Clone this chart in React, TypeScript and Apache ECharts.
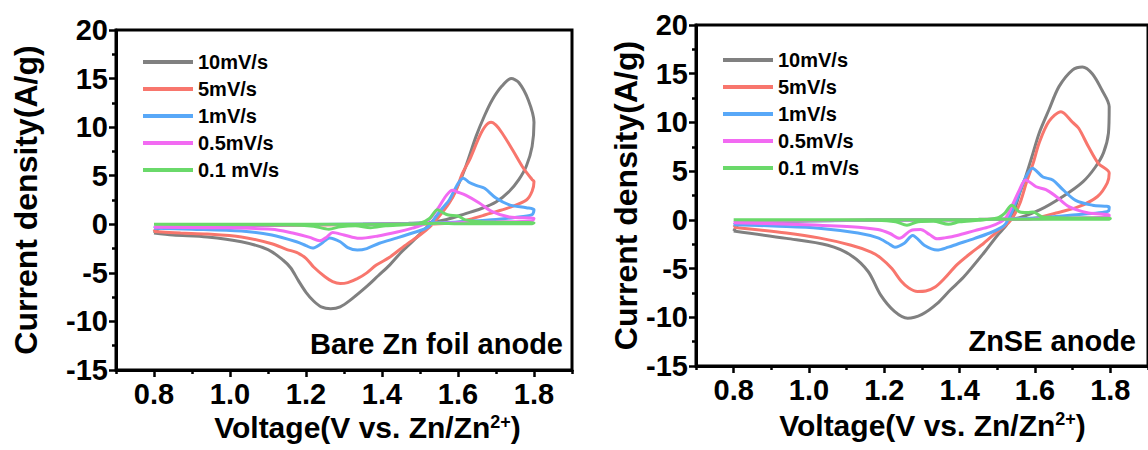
import React, { useEffect, useRef } from "react";
import * as echarts from "echarts";

const seriesNames = ["10mV/s", "5mV/s", "1mV/s", "0.5mV/s", "0.1 mV/s"];
const seriesColors = ["#808080", "#f8766d", "#58a8f8", "#f26af2", "#6ad96a"];
const xLabelValues = [0.8, 1.0, 1.2, 1.4, 1.6, 1.8];
const xMinorValues = [0.7, 0.9, 1.1, 1.3, 1.5, 1.7, 1.9];
const panelLabels = ["Bare Zn foil anode", "ZnSE anode"];
const yTitle = "Current density(A/g)";
const xTitle = "Voltage(V vs. Zn/Zn{sup|2+})";

// Bare Zn foil anode
const bare10 = [[0.80,-0.9],[0.85,-1.1],[0.94,-1.3],[1.03,-1.8],[1.10,-2.6],[1.14,-3.7],[1.16,-4.5],[1.18,-5.8],[1.20,-7.0],[1.22,-7.9],[1.24,-8.5],[1.265,-8.7],[1.29,-8.5],[1.32,-7.7],[1.36,-6.4],[1.39,-5.3],[1.42,-4.2],[1.45,-2.9],[1.49,-1.4],[1.52,-0.2],[1.55,1.0],[1.58,2.5],[1.60,4.0],[1.62,5.9],[1.648,9.1],[1.67,11.2],[1.69,12.8],[1.715,14.2],[1.74,15.0],[1.76,14.6],[1.785,12.8],[1.80,10.5],[1.795,8.0],[1.78,6.0],[1.76,4.6],[1.735,3.4],[1.70,2.3],[1.66,1.6],[1.62,1.1],[1.57,0.5],[1.53,0.2],[1.47,0.1],[1.35,0.0],[1.20,-0.05],[1.05,-0.1],[0.92,-0.2],[0.82,-0.3],[0.80,-0.9]];
const bare5 = [[0.80,-0.75],[0.87,-0.9],[0.94,-1.0],[1.03,-1.3],[1.11,-2.0],[1.15,-2.6],[1.175,-2.9],[1.20,-3.5],[1.22,-4.4],[1.25,-5.4],[1.27,-5.9],[1.29,-6.1],[1.31,-6.0],[1.335,-5.6],[1.36,-5.0],[1.385,-4.2],[1.42,-3.4],[1.46,-2.2],[1.50,-1.1],[1.525,-0.3],[1.55,0.8],[1.577,2.2],[1.595,3.5],[1.611,5.2],[1.63,6.6],[1.656,9.0],[1.672,10.1],[1.687,10.5],[1.70,10.2],[1.716,9.4],[1.743,7.7],[1.77,5.9],[1.795,4.6],[1.80,4.4],[1.795,3.4],[1.78,2.5],[1.74,1.8],[1.70,1.3],[1.67,0.95],[1.63,0.5],[1.60,0.2],[1.55,0.05],[1.45,0.0],[1.30,-0.05],[1.15,-0.1],[1.00,-0.15],[0.88,-0.2],[0.81,-0.3],[0.80,-0.75]];
const bare1 = [[0.80,-0.4],[0.90,-0.5],[1.03,-0.7],[1.11,-1.1],[1.175,-1.8],[1.20,-2.2],[1.217,-2.45],[1.24,-2.0],[1.262,-1.4],[1.29,-1.8],[1.31,-2.4],[1.335,-2.65],[1.36,-2.5],[1.393,-1.95],[1.44,-1.4],[1.48,-0.9],[1.52,-0.3],[1.542,0.8],[1.56,1.7],[1.577,2.5],[1.60,4.2],[1.614,4.75],[1.63,4.3],[1.648,4.0],[1.67,3.7],[1.70,2.7],[1.735,2.0],[1.78,1.7],[1.80,1.5],[1.795,1.0],[1.75,0.7],[1.70,0.5],[1.62,0.3],[1.55,0.15],[1.45,0.05],[1.30,0.0],[1.15,-0.05],[1.00,-0.1],[0.88,-0.15],[0.81,-0.2],[0.80,-0.4]];
const bare05 = [[0.80,-0.3],[0.95,-0.35],[1.11,-0.5],[1.165,-0.9],[1.21,-1.35],[1.236,-1.7],[1.255,-1.3],[1.27,-0.85],[1.30,-1.1],[1.34,-1.45],[1.39,-1.2],[1.44,-0.8],[1.48,-0.4],[1.51,0.0],[1.53,0.75],[1.55,1.8],[1.57,3.0],[1.585,3.5],[1.60,3.3],[1.62,3.0],[1.656,2.2],[1.69,1.3],[1.735,0.75],[1.80,0.6],[1.795,0.35],[1.70,0.25],[1.60,0.15],[1.50,0.05],[1.35,0.0],[1.15,-0.05],[0.95,-0.1],[0.82,-0.15],[0.80,-0.3]];
const bare01 = [[0.80,0.0],[1.00,-0.02],[1.15,-0.05],[1.22,-0.2],[1.26,-0.5],[1.29,-0.25],[1.33,-0.15],[1.37,-0.35],[1.41,-0.15],[1.46,-0.05],[1.50,0.1],[1.525,0.6],[1.546,1.5],[1.56,1.2],[1.575,0.95],[1.60,0.85],[1.62,0.45],[1.66,0.25],[1.72,0.2],[1.80,0.15],[1.795,0.05],[1.70,0.05],[1.60,0.05],[1.55,0.1],[1.50,0.05],[1.40,0.0],[1.20,0.0],[1.00,0.0],[0.80,0.0]];

// ZnSE anode
const se10 = [[0.80,-1.15],[0.94,-1.9],[1.05,-2.6],[1.11,-3.6],[1.157,-5.3],[1.19,-7.7],[1.227,-9.4],[1.262,-10.1],[1.30,-9.7],[1.34,-8.6],[1.375,-7.2],[1.41,-5.9],[1.464,-3.4],[1.50,-1.6],[1.525,-0.5],[1.545,1.0],[1.56,2.8],[1.575,4.4],[1.592,6.5],[1.611,8.9],[1.637,11.3],[1.664,13.7],[1.70,15.4],[1.726,15.7],[1.752,15.0],[1.778,13.3],[1.797,11.6],[1.795,8.9],[1.782,6.9],[1.76,5.4],[1.727,3.9],[1.674,2.4],[1.611,1.0],[1.542,0.1],[1.45,0.05],[1.30,0.0],[1.15,-0.05],[1.00,-0.1],[0.90,-0.2],[0.82,-0.3],[0.80,-1.15]];
const se5 = [[0.80,-0.75],[0.94,-1.35],[1.026,-1.85],[1.112,-2.6],[1.165,-3.3],[1.19,-3.9],[1.22,-5.0],[1.245,-6.3],[1.265,-7.0],[1.288,-7.35],[1.31,-7.3],[1.335,-6.9],[1.36,-6.0],[1.393,-4.6],[1.43,-3.4],[1.464,-2.4],[1.506,-1.0],[1.53,-0.3],[1.545,0.5],[1.56,1.7],[1.577,3.8],[1.595,5.8],[1.611,7.9],[1.637,10.1],[1.669,11.1],[1.70,10.0],[1.716,9.4],[1.742,7.5],[1.768,5.8],[1.797,4.8],[1.792,3.8],[1.766,2.4],[1.716,1.35],[1.656,0.7],[1.585,0.1],[1.50,0.05],[1.35,0.0],[1.15,-0.05],[1.00,-0.1],[0.88,-0.15],[0.82,-0.25],[0.80,-0.75]];
const se1 = [[0.80,-0.5],[0.92,-0.65],[1.026,-0.85],[1.13,-1.35],[1.183,-1.85],[1.21,-2.4],[1.228,-2.8],[1.253,-2.4],[1.275,-1.6],[1.306,-2.6],[1.34,-3.1],[1.37,-2.8],[1.393,-2.5],[1.44,-1.9],[1.48,-1.35],[1.51,-0.8],[1.522,-0.4],[1.537,0.7],[1.551,2.0],[1.572,4.1],[1.593,5.3],[1.621,4.4],[1.647,4.1],[1.674,3.1],[1.708,2.0],[1.753,1.5],[1.797,1.3],[1.795,0.9],[1.70,0.5],[1.60,0.2],[1.50,0.05],[1.35,0.0],[1.15,-0.05],[0.95,-0.12],[0.82,-0.2],[0.80,-0.5]];
const se05 = [[0.80,-0.3],[0.95,-0.45],[1.112,-0.7],[1.183,-1.0],[1.215,-1.4],[1.24,-1.9],[1.27,-1.1],[1.296,-1.0],[1.32,-1.5],[1.34,-1.95],[1.36,-1.85],[1.393,-1.6],[1.44,-1.1],[1.48,-0.7],[1.51,-0.2],[1.524,0.3],[1.542,1.7],[1.559,3.1],[1.575,4.1],[1.603,3.4],[1.629,3.1],[1.656,2.4],[1.69,1.35],[1.742,0.7],[1.797,0.5],[1.795,0.3],[1.70,0.2],[1.60,0.1],[1.50,0.05],[1.30,0.0],[1.10,-0.05],[0.92,-0.1],[0.82,-0.15],[0.80,-0.3]];
const se01 = [[0.80,0.0],[1.00,-0.02],[1.18,-0.05],[1.23,-0.2],[1.26,-0.55],[1.29,-0.2],[1.33,-0.15],[1.37,-0.45],[1.40,-0.2],[1.45,-0.05],[1.50,0.2],[1.52,0.7],[1.538,1.5],[1.56,0.8],[1.58,0.75],[1.595,0.8],[1.62,0.3],[1.68,0.2],[1.80,0.15],[1.795,0.05],[1.60,0.05],[1.50,0.05],[1.40,0.0],[1.20,0.0],[1.00,0.0],[0.80,0.0]];

const panelData = [
  [bare10, bare5, bare1, bare05, bare01],
  [se10, se5, se1, se05, se01],
];

const FONT = 'Arial, "Liberation Sans", Helvetica, sans-serif';
const BLACK = "#000";

export default function App() {
  const ref = useRef<HTMLDivElement>(null);

  useEffect(() => {
    if (!ref.current) return;
    const chart = echarts.init(ref.current, undefined, { renderer: "svg" });

    const gridsLayout = [
      { left: 116, top: 30, width: 456, height: 340 },
      { left: 696, top: 25, width: 457, height: 341 },
    ];
    const yNameGap = [74, 52];
    const xNameGap = [42, 44];
    const xNamePad = [47, 21];
    const legendPos = [
      { left: 138, top: 47 },
      { left: 718, top: 45 },
    ];
    const labelPos = [
      { x: 563, y: 344 },
      { x: 1136, y: 341 },
    ];

    const axisLineStyle = { color: BLACK, width: 3 };
    const tickLineStyle = { color: BLACK, width: 2.5 };
    const labelStyle = {
      fontSize: 29,
      fontWeight: "bold" as const,
      color: BLACK,
      fontFamily: FONT,
    };

    const grid = gridsLayout.map((g) => ({
      ...g,
      show: true,
      borderColor: BLACK,
      borderWidth: 3,
      backgroundColor: "transparent",
    }));

    const xAxis: any[] = [];
    const yAxis: any[] = [];
    gridsLayout.forEach((_, i) => {
      xAxis.push({
        gridIndex: i,
        type: "value",
        min: 0.7,
        max: 1.9,
        interval: 0.1,
        position: "bottom",
        axisLine: { show: true, onZero: false, lineStyle: axisLineStyle },
        axisTick: {
          show: true,
          length: 7,
          lineStyle: tickLineStyle,
          customValues: xLabelValues,
        },
        axisLabel: {
          ...labelStyle,
          margin: 9,
          customValues: xLabelValues,
          formatter: (v: number) => v.toFixed(1),
        },
        splitLine: { show: false },
        name: xTitle,
        nameLocation: "middle",
        nameGap: xNameGap[i],
        nameTextStyle: {
          fontSize: 30,
          fontWeight: "bold",
          color: BLACK,
          fontFamily: FONT,
          padding: [0, 0, 0, xNamePad[i]],
          rich: {
            sup: {
              fontSize: 18,
              fontWeight: "bold",
              color: BLACK,
              fontFamily: FONT,
              verticalAlign: "top",
            },
          },
        },
      });
      xAxis.push({
        gridIndex: i,
        type: "value",
        min: 0.7,
        max: 1.9,
        interval: 0.1,
        position: "bottom",
        axisLine: { show: false, onZero: false },
        axisTick: {
          show: true,
          length: 4,
          lineStyle: tickLineStyle,
          customValues: xMinorValues,
        },
        axisLabel: { show: false },
        splitLine: { show: false },
      });
      yAxis.push({
        gridIndex: i,
        type: "value",
        min: -15,
        max: 20,
        interval: 5,
        axisLine: { show: true, onZero: false, lineStyle: axisLineStyle },
        axisTick: { show: true, length: 7, lineStyle: tickLineStyle },
        minorTick: { show: true, splitNumber: 2, length: 4, lineStyle: tickLineStyle },
        axisLabel: { ...labelStyle, margin: 8 },
        splitLine: { show: false },
        minorSplitLine: { show: false },
        name: yTitle,
        nameLocation: "middle",
        nameGap: yNameGap[i],
        nameTextStyle: {
          fontSize: 32,
          fontWeight: "bold",
          color: BLACK,
          fontFamily: FONT,
        },
      });
    });

    const series: any[] = [];
    panelData.forEach((set, i) => {
      set.forEach((data, k) => {
        series.push({
          name: seriesNames[k],
          type: "line",
          xAxisIndex: i * 2,
          yAxisIndex: i,
          data,
          symbol: "none",
          showSymbol: false,
          smooth: 0.3,
          lineStyle: { width: 3, color: seriesColors[k] },
          itemStyle: { color: seriesColors[k] },
        });
      });
    });

    const legend = legendPos.map((p) => ({
      ...p,
      orient: "vertical",
      icon: "rect",
      itemWidth: 50,
      itemHeight: 4,
      itemGap: 7,
      selectedMode: false,
      data: seriesNames,
      textStyle: {
        fontSize: 20,
        lineHeight: 20,
        fontWeight: "bold",
        color: BLACK,
        fontFamily: FONT,
      },
    }));

    const graphic = panelLabels.map((t, i) => ({
      type: "text",
      x: labelPos[i].x,
      y: labelPos[i].y,
      style: {
        text: t,
        fontSize: 29,
        fontWeight: "bold",
        fontFamily: FONT,
        fill: BLACK,
        align: "right",
        verticalAlign: "middle",
      },
    }));

    chart.setOption({
      animation: false,
      backgroundColor: "#fff",
      grid,
      xAxis,
      yAxis,
      legend,
      series,
      graphic,
    });

    return () => chart.dispose();
  }, []);

  return (
    <div
      ref={ref}
      style={{ position: "fixed", left: 0, top: 0, width: 1148, height: 450 }}
    />
  );
}
